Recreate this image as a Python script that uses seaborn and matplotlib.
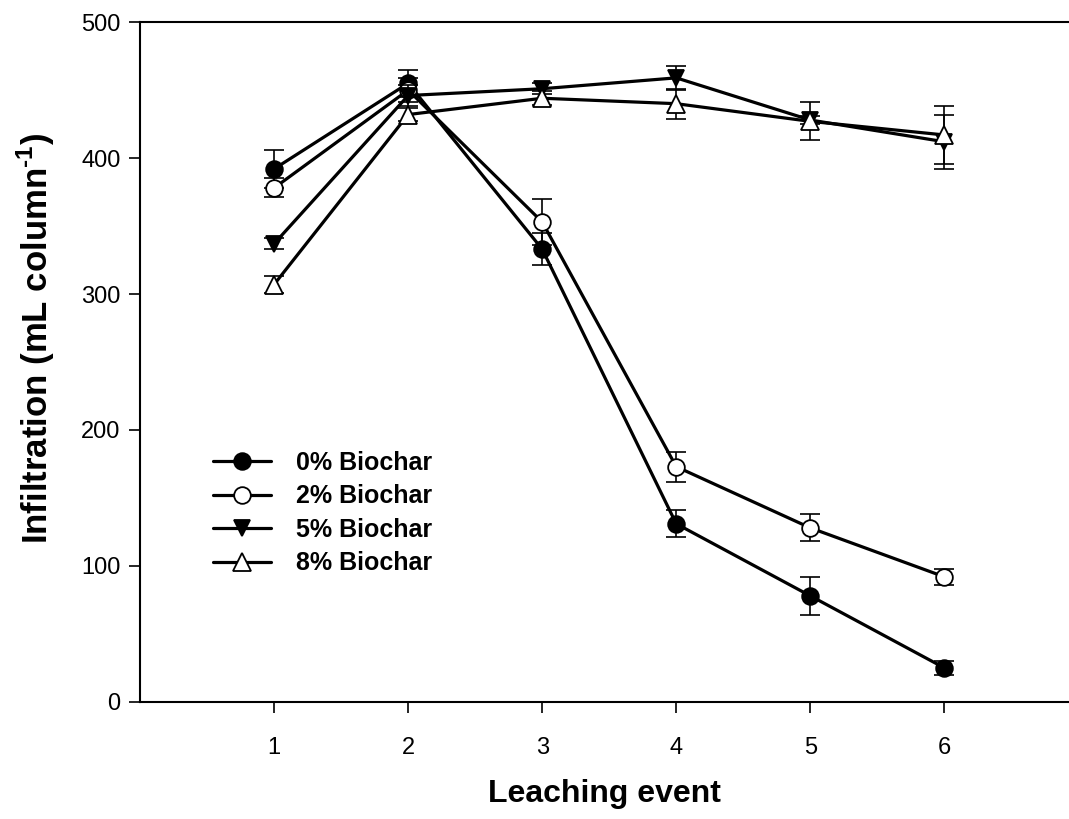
import numpy as np
import pandas as pd
import matplotlib
matplotlib.use("Agg")
import matplotlib.pyplot as plt
import seaborn as sns

# Leaching events and mean infiltration (± SE) for each biochar rate
events = [1, 2, 3, 4, 5, 6]
treatments = ["0% Biochar", "2% Biochar", "5% Biochar", "8% Biochar"]

mean_0 = [392, 455, 333, 131, 78, 25]
err_0 = [14, 10, 12, 10, 14, 5]
mean_2 = [378, 450, 353, 173, 128, 92]
err_2 = [7, 9, 17, 11, 10, 6]
mean_5 = [337, 446, 451, 459, 428, 412]
err_5 = [4, 8, 4, 9, 3, 20]
mean_8 = [307, 432, 444, 440, 427, 417]
err_8 = [6, 5, 5, 11, 14, 21]

y_ticks = [0, 100, 200, 300, 400, 500]

means = [mean_0, mean_2, mean_5, mean_8]
errs = [err_0, err_2, err_5, err_8]

df = pd.concat(
    [pd.DataFrame({"event": events, "infiltration": m, "se": e, "treatment": t})
     for t, m, e in zip(treatments, means, errs)],
    ignore_index=True,
)

sns.set_theme(style="white")
plt.rcParams["font.family"] = ["Liberation Sans", "DejaVu Sans"]
plt.rcParams["mathtext.fontset"] = "custom"
plt.rcParams["mathtext.rm"] = "Liberation Sans:bold"
plt.rcParams["mathtext.bf"] = "Liberation Sans:bold"
for key in ["text.color", "axes.labelcolor", "xtick.color", "ytick.color"]:
    plt.rcParams[key] = "black"

fig = plt.figure(figsize=(10.69, 8.19), dpi=100)
ax = fig.add_axes([0.131, 0.143, 0.869, 0.830])

styles = {
    "0% Biochar": dict(marker="o", mfc="black"),
    "2% Biochar": dict(marker="o", mfc="white"),
    "5% Biochar": dict(marker="v", mfc="black"),
    "8% Biochar": dict(marker="^", mfc="white"),
}
msize = {"o": 12, "v": 12, "^": 12.5}

for i, t in enumerate(treatments):
    sub = df[df["treatment"] == t]
    st = styles[t]
    ax.errorbar(sub["event"], sub["infiltration"], yerr=sub["se"], fmt="none",
                ecolor="black", elinewidth=1.2, capsize=7, capthick=1.2, zorder=2 + i)
    sns.lineplot(data=sub, x="event", y="infiltration", ax=ax, color="black",
                 linewidth=2.3, marker=st["marker"], markersize=msize[st["marker"]],
                 markerfacecolor=st["mfc"], markeredgecolor="black",
                 markeredgewidth=1.3, label=t, zorder=3 + i, errorbar=None)

ax.set_xlim(0, 6.93)
ax.set_ylim(0, 500)
ax.set_xticks(events)
ax.set_yticks(y_ticks)
ax.tick_params(axis="both", direction="out", length=8, width=1.2, color="black",
               labelsize=17, bottom=True, left=True, pad=6)
ax.tick_params(axis="x", pad=17)

for side in ["left", "bottom", "top"]:
    ax.spines[side].set_color("black")
    ax.spines[side].set_linewidth(1.5)
ax.spines["right"].set_visible(False)

ax.set_xlabel("Leaching event", fontsize=23, fontweight="bold", labelpad=15)
ax.set_ylabel(r"Infiltration (mL column$^{\text{-1}}$)", fontsize=25,
              fontweight="bold")
ax.yaxis.set_label_coords(-0.089, 0.535)

leg = ax.legend(loc="upper left", bbox_to_anchor=(0.060, 0.395), frameon=False,
                handlelength=2.3, handletextpad=1.0, labelspacing=0.38,
                borderpad=0.2, prop={"weight": "bold", "size": 18})

fig.savefig("out.png", dpi=100)
